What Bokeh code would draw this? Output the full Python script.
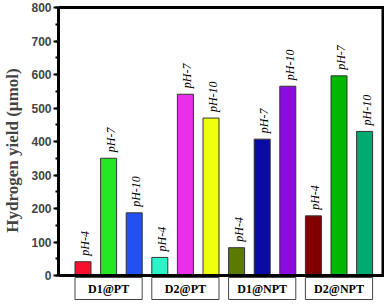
import math
from bokeh.plotting import figure
from bokeh.models import ColumnDataSource, SingleIntervalTicker, Range1d
from bokeh.core.properties import value
from bokeh.embed import file_html
from bokeh.resources import INLINE

# ---- data ----
groups = ["D1@PT", "D2@PT", "D1@NPT", "D2@NPT"]
ph_labels = ["pH-4", "pH-7", "pH-10"]
d1_pt = [41, 350, 187]
d2_pt = [54, 541, 470]
d1_npt = [83, 407, 565]
d2_npt = [178, 596, 430]
bar_colors = ["#F5102E", "#25E825", "#2350F0",
              "#2BF5C8", "#E830E8", "#F0FF10",
              "#5A7A00", "#0A0AA5", "#8B0BE0",
              "#800000", "#00B800", "#00AA70"]
y_max = 800

series = [d1_pt, d2_pt, d1_npt, d2_npt]
xs, ys, labs = [], [], []
for gi, vals in enumerate(series):
    for pi, v in enumerate(vals):
        xs.append(gi * 3 + pi + 1)
        ys.append(v)
        labs.append(ph_labels[pi])

# ---- layout constants (canvas pixels, relative to figure top-left) ----
W, H = 384, 300
FL = 58                 # frame left
PX_TOP_VAL = 7          # pixel of y_max line
PX_ZERO = 275           # pixel of y=0 line
BOX_TOP, BOX_BOT = 277, 299
X_UNIT = 25.6           # pixels per bar slot
X_FIRST = 24.5          # pixel offset of first bar centre from frame left

scale = (PX_ZERO - PX_TOP_VAL) / y_max
def py(pix):
    return (PX_ZERO - pix) / scale
def pxv(pix):
    return 1 + (pix - X_FIRST) / X_UNIT

frame_w = W - FL
x_start, x_end = pxv(0), pxv(frame_w)
x_right_line = pxv(frame_w - 1.5)

BW = 16 / X_UNIT
src = ColumnDataSource(dict(x=xs, top=ys, lab=labs, color=bar_colors))

p = figure(width=W, height=H, x_range=Range1d(x_start, x_end),
           y_range=Range1d(py(H), py(0)),
           output_backend="svg", toolbar_location=None, x_axis_location=None,
           min_border_left=FL, min_border_right=0, min_border_top=0, min_border_bottom=0)
p.grid.visible = False
p.outline_line_color = None
p.background_fill_color = "white"
p.border_fill_color = "white"

p.vbar(x="x", top="top", bottom=0, width=BW, fill_color="color",
       line_color="#333333", line_width=1, source=src)
p.text(x="x", y="top", text="lab", source=src, angle=math.pi / 2,
       text_align="left", text_baseline="middle", y_offset=-6, x_offset=2,
       text_font=value("Liberation Serif"), text_font_style="italic",
       text_font_size="12px", text_color="black")

# frame lines (top, right, bottom)
p.segment(x0=[x_start, x_right_line, x_start], y0=[y_max, y_max, 0],
          x1=[x_right_line, x_right_line, x_right_line], y1=[y_max, 0, 0],
          line_color="black", line_width=3, line_cap="square")

ax = p.yaxis[0]
ax.bounds = (0, y_max)
ax.ticker = SingleIntervalTicker(interval=100, num_minor_ticks=2)
ax.axis_label = "Hydrogen yield (µmol)"
ax.axis_label_text_font = "Liberation Serif"
ax.axis_label_text_font_style = "bold"
ax.axis_label_text_font_size = "17px"
ax.axis_label_standoff = 6
ax.major_label_text_font = "Liberation Sans"
ax.major_label_text_font_style = "bold"
ax.major_label_text_font_size = "12px"
ax.major_label_standoff = 2
ax.axis_line_width = 3
ax.major_tick_in = 0
ax.major_tick_out = 5
ax.major_tick_line_width = 2
ax.minor_tick_in = 0
ax.minor_tick_out = 3
ax.minor_tick_line_width = 2

# ---- category boxes below the axis ----
gx_left = [g * 3 + 1 - BW / 2 for g in range(len(groups))]
gx_right = [g * 3 + 3 + BW / 2 for g in range(len(groups))]
gx_mid = [g * 3 + 2 for g in range(len(groups))]
bsrc = ColumnDataSource(dict(left=gx_left, right=gx_right, mid=gx_mid, name=groups))
p.quad(left="left", right="right", bottom=py(BOX_BOT), top=py(BOX_TOP), source=bsrc,
       fill_color="white", line_color="#444444", line_width=1)
p.text(x="mid", y=py((BOX_TOP + BOX_BOT) / 2), text="name", source=bsrc,
       text_align="center", text_baseline="middle",
       text_font=value("Liberation Serif"), text_font_style="bold",
       text_font_size="12px", text_color="black")

open("out.html", "w").write(file_html(p, INLINE))
